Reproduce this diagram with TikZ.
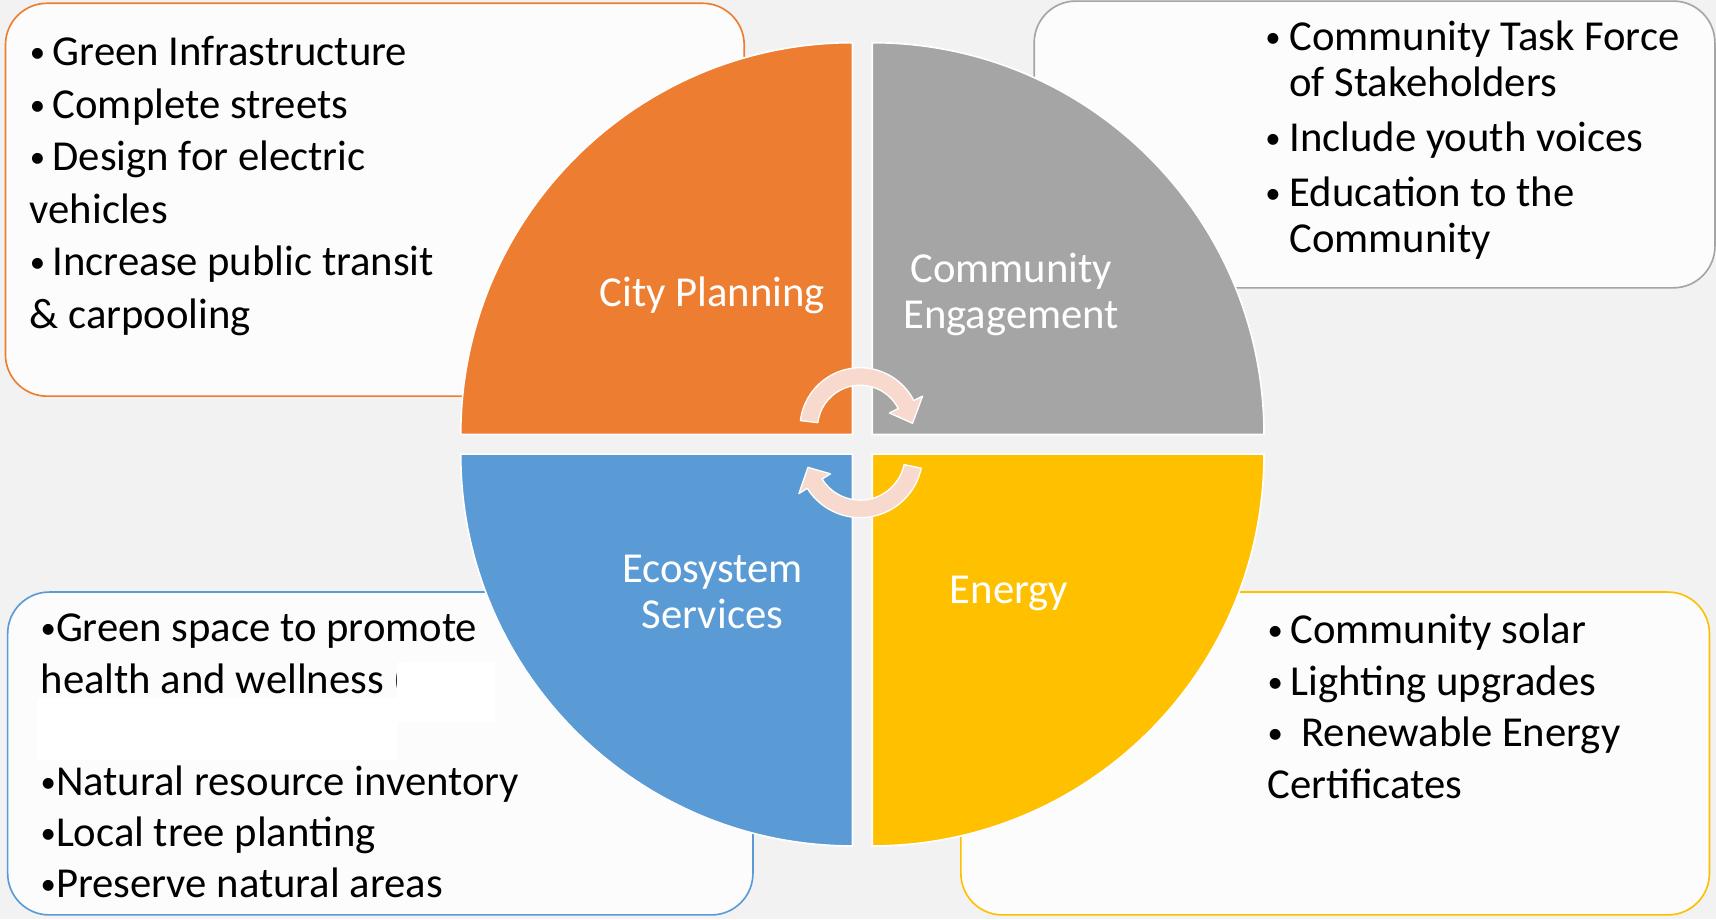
\documentclass[tikz,border=0pt]{standalone}
\usepackage{fontspec}
\setmainfont{Carlito}
\usetikzlibrary{positioning}

\definecolor{planorange}{RGB}{237,125,49}
\definecolor{engagegray}{RGB}{165,165,165}
\definecolor{ecoblue}{RGB}{91,155,213}
\definecolor{energyyellow}{RGB}{255,192,0}
\definecolor{cyclepink}{RGB}{248,217,206}
\definecolor{slidebg}{RGB}{242,242,242}
\definecolor{boxfill}{RGB}{252,252,252}

\newcommand{\smalldot}{\raisebox{0.07em}{\scalebox{0.72}{\textbullet}}}
\newcommand{\itemdot}[1][21pt]{\makebox[#1][l]{\smalldot}}

\tikzset{
  infobox/.style={draw=#1, fill=boxfill, line width=1.5pt, rounded corners=38pt, inner sep=0pt},
  boxtext/.style={anchor=north west, inner sep=0pt, align=left, font=\fontsize{39}{48}\selectfont},
  quarter/.style={fill=#1, draw=white, line width=1.5pt},
  quartertext/.style={text=white, align=center, font=\fontsize{39}{42}\selectfont},
  cyclearrow/.style={fill=cyclepink, draw=white, line width=1.2pt, line join=round}
}

\begin{document}
\begin{tikzpicture}[x=1pt,y=1pt]

%BACKGROUND
\fill[slidebg] (0,0) rectangle (1568,-840);
\useasboundingbox (0,0) rectangle (1568,-840);

%BOXES
\node[infobox=planorange, minimum width=675pt, minimum height=359pt](planbox) at (342.5,-182.5) {};
\node[infobox=engagegray, minimum width=622pt, minimum height=262pt](engagebox) at (1256,-132) {};
\node[infobox=ecoblue, minimum width=681pt, minimum height=295pt](ecobox) at (347.5,-688.5) {};
\node[infobox=energyyellow, minimum width=684pt, minimum height=295pt](energybox) at (1220,-688.5) {};

\node[boxtext](plantext) at (27,-33) {\itemdot Green Infrastructure\\
\itemdot Complete streets\\
\itemdot Design for electric\\
vehicles\\
\itemdot Increase public transit\\
\& carpooling};

\node[boxtext, font=\fontsize{39}{42}\selectfont](engagetext) at (1156,-19) {\itemdot[22pt]Community Task Force\\
\hspace*{22pt}of Stakeholders\\[8pt]
\itemdot[22pt]Include youth voices\\[8pt]
\itemdot[22pt]Education to the\\
\hspace*{22pt}Community};

\node[boxtext, font=\fontsize{39}{46.8}\selectfont](ecotext) at (37,-561) {\smalldot Green space to promote\\
health and wellness (\\
\mbox{}\\
\smalldot Natural resource inventory\\
\smalldot Local tree planting\\
\smalldot Preserve natural areas};
\fill[white] (34,-638) rectangle (363,-694);
\fill[white] (363,-605) rectangle (452,-660);

\node[boxtext, font=\fontsize{39}{47}\selectfont](energytext) at (1158,-561) {\itemdot Community solar\\
\itemdot Lighting upgrades\\
\itemdot[31pt]Renewable Energy\\
Certificates};

%QUADRANTS
\fill[quarter=planorange] (779,-397) -- ++(-358,0) arc[start angle=180, end angle=90, radius=358] -- cycle;
\fill[quarter=engagegray] (797,-397) -- ++(0,358) arc[start angle=90, end angle=0, radius=358] -- cycle;
\fill[quarter=ecoblue] (779,-415) -- ++(0,-358) arc[start angle=270, end angle=180, radius=358] -- cycle;
\fill[quarter=energyyellow] (797,-415) -- ++(358,0) arc[start angle=0, end angle=-90, radius=358] -- cycle;

\node[quartertext](plan) at (651,-270) {City Planning};
\node[quartertext](engage) at (924,-269) {Community\\Engagement};
\node[quartertext](eco) at (651,-541) {Ecosystem\\Services};
\node[quartertext](energy) at (922,-542) {Energy};

%CYCLE ARROWS
\begin{scope}[shift={(786,-391)}]
\filldraw[cyclearrow] (173:55) arc[start angle=173, end angle=27, radius=55] -- (27:64) -- (5:48) -- (27:30) -- (27:39) arc[start angle=27, end angle=173, radius=39] -- cycle;
\end{scope}
\begin{scope}[shift={(786,-416)}]
\filldraw[cyclearrow] (-12:57) arc[start angle=-12, end angle=-148, radius=57] -- (-148:66) -- (-167:49) -- (-148:32) -- (-148:41) arc[start angle=-148, end angle=-12, radius=41] -- cycle;
\end{scope}

\end{tikzpicture}
\end{document}
